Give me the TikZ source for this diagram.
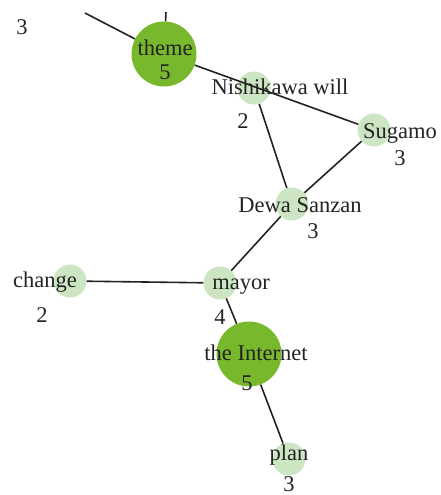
\documentclass[tikz,border=0pt]{standalone}
\usepackage{fontspec}
\setmainfont{Liberation Serif}
\usetikzlibrary{positioning}
\definecolor{hubgreen}{RGB}{120,184,44}
\definecolor{leafgreen}{RGB}{204,230,196}
\definecolor{inkgray}{RGB}{35,35,35}
\tikzstyle{hub} = [
    circle,
    minimum size=65pt,
    inner sep=0pt,
    fill=hubgreen
]
\tikzstyle{leaf} = [
    circle,
    minimum size=33pt,
    inner sep=0pt,
    fill=leafgreen
]
\tikzstyle{word} = [
    text=inkgray,
    inner sep=0pt,
    font=\fontsize{22.5}{26}\selectfont
]
\tikzstyle{link} = [draw=inkgray, line width=1.6pt]

\begin{document}
\begin{tikzpicture}[x=1pt, y=-1pt]
\useasboundingbox (0,0) rectangle (440,495);

% Nodes
\node (theme) [hub] at (164,54) {};
\node (nishikawa) [leaf] at (254,88) {};
\node (sugamo) [leaf] at (374,130) {};
\node (dewa) [leaf] at (292,204) {};
\node (change) [leaf] at (70,281) {};
\node (mayor) [leaf] at (220,283) {};
\node (internet) [hub] at (249,354) {};
\node (plan) [leaf] at (289,459) {};
\coordinate (outleft) at (85,13);
\coordinate (outtop) at (166,12);

% Edges
\draw [link] (outleft) -- (theme);
\draw [link] (outtop) -- (theme);
\draw [link] (theme) -- (sugamo);
\draw [link] (nishikawa) -- (dewa);
\draw [link] (sugamo) -- (dewa);
\draw [link] (dewa) -- (mayor);
\draw [link] (change) -- (mayor);
\draw [link] (mayor) -- (internet);
\draw [link] (internet) -- (plan);

% Labels
\node (themetxt) [word] at (165,48) {theme};
\node (themedeg) [word] at (165,72) {5};
\node (nishitxt) [word] at (280,87) {Nishikawa will};
\node (nishideg) [word] at (243,121) {2};
\node (sugatxt) [word] at (400,133) {Sugamo};
\node (sugadeg) [word] at (400,158) {3};
\node (dewatxt) [word] at (300,205) {Dewa Sanzan};
\node (dewadeg) [word] at (313,231) {3};
\node (changetxt) [word] at (45,282) {change};
\node (changedeg) [word] at (42,315) {2};
\node (mayortxt) [word] at (241,287) {mayor};
\node (mayordeg) [word] at (220,317) {4};
\node (nettxt) [word] at (256,353) {the Internet};
\node (netdeg) [word] at (247,383) {5};
\node (plantxt) [word] at (289,455) {plan};
\node (plandeg) [word] at (289,484) {3};
\node (offdeg) [word] at (22,27) {3};

\end{tikzpicture}
\end{document}
